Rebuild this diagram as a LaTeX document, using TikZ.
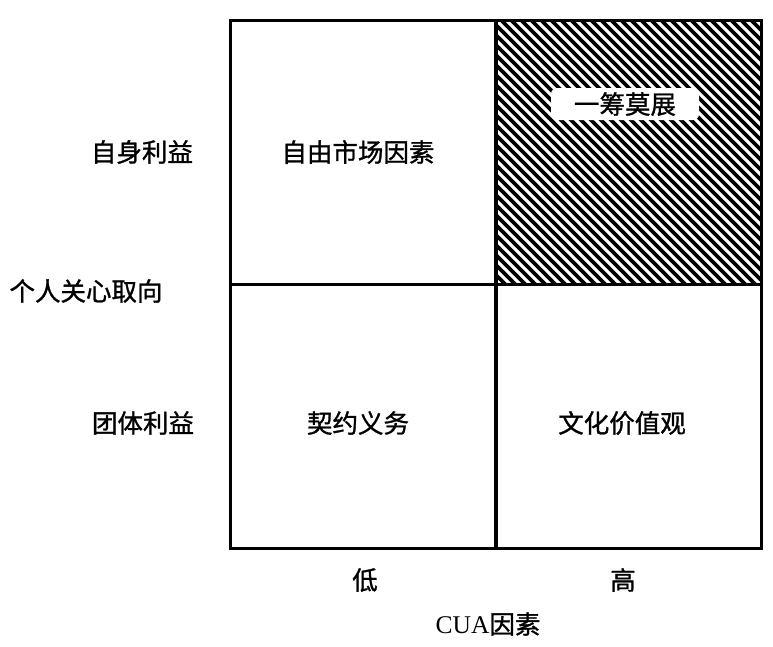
\documentclass[tikz,border=0pt]{standalone}
\usepackage{fontspec}
\setmainfont{Liberation Serif}
\newfontfamily\cjk[FakeBold=1.2]{Noto Sans CJK SC}
\usetikzlibrary{positioning}
\tikzset{
  cell/.style   ={draw, line width=3pt, rectangle, minimum width=265pt, minimum height=264pt, inner sep=0pt, anchor=north west},
  lbl/.style    ={font=\cjk\fontsize{25.5}{27}\selectfont, inner sep=1pt},
  tag/.style    ={fill=white, rounded corners=6pt, minimum width=148pt, minimum height=32pt, font=\cjk\fontsize{25.5}{27}\selectfont},
  hatch/.style  ={line width=3.8pt},
}
\begin{document}
\begin{tikzpicture}[x=1pt, y=-1pt]
  \useasboundingbox (0,0) rectangle (773,646);
  % hatched quadrant
  \begin{scope}
    \clip (495,20) rectangle (760,283);
    \foreach \k in {225,235,...,765}
      \draw[hatch] (\k,14) -- ++(280,280);
  \end{scope}
  % quadrants
  \node[cell] (ul) at (229,19)  {};
  \node[cell] (ur) at (495,19)  {};
  \node[cell] (ll) at (229,283) {};
  \node[cell] (lr) at (495,283) {};

  \node[lbl] (free) at (358,152) {自由市场因素};
  \node[tag] (stuck) at (625,104) {一筹莫展};
  \node[lbl] (contract) at (358,423) {契约义务};
  \node[lbl] (culture) at (622,423) {文化价值观};

  % axis labels
  \node[lbl] (self)  at (142,152) {自身利益};
  \node[lbl] (axisy) at (86,291)  {个人关心取向};
  \node[lbl] (group) at (143,423) {团体利益};
  \node[lbl] (low)   at (365,580) {低};
  \node[lbl] (high)  at (623,580) {高};
  \node[lbl] (axisx) at (488,624) {\rmfamily CUA\cjk 因素};
\end{tikzpicture}
\end{document}
